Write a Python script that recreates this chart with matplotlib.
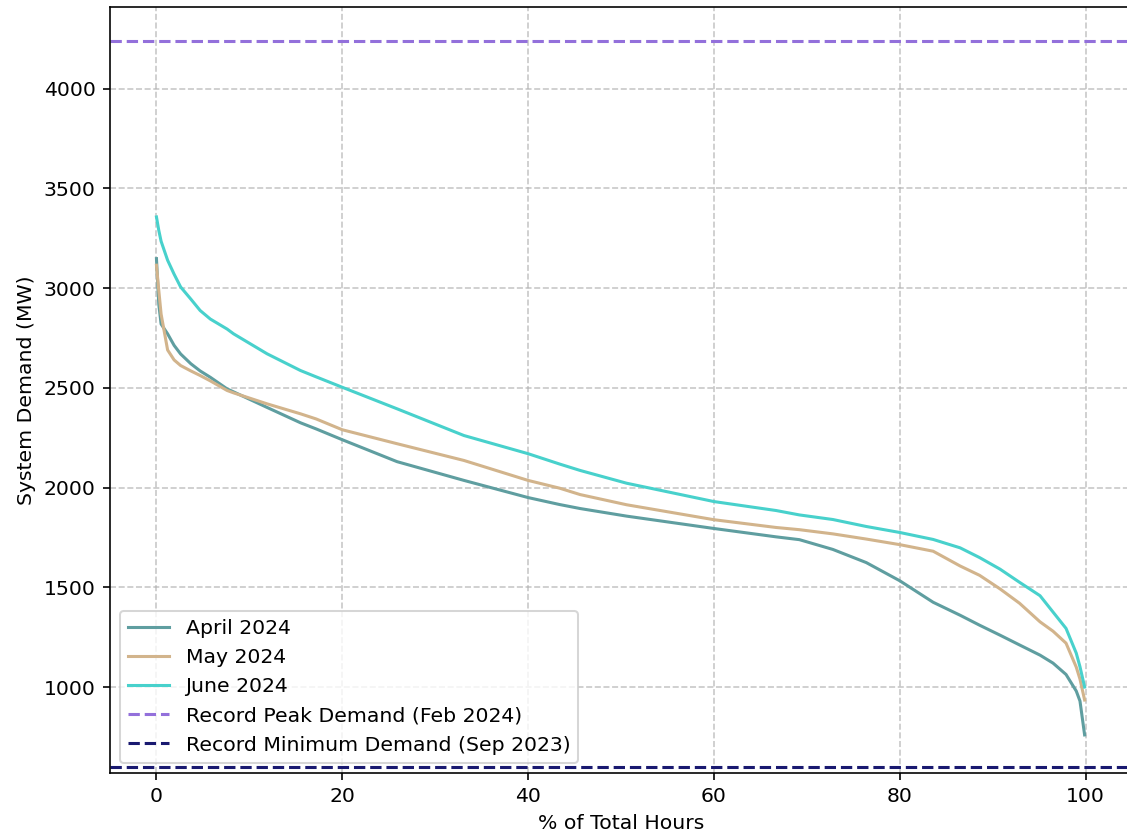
import matplotlib
matplotlib.use("Agg")
import matplotlib.pyplot as plt

pct_hours = [0, 0.25, 0.5, 1.2, 1.9, 2.6, 3.7, 4.7, 5.8, 7.6, 8.3, 11.9, 15.5, 17.2, 20,
             25.9, 33.1, 40, 43.4, 45.6, 50.6, 60, 66.7, 69.2, 72.8, 76.4, 80, 83.6, 86.5,
             88.6, 90.8, 92.9, 95.1, 96.5, 97.9, 99.0, 99.4, 99.9]

april_2024 = [3148, 2920, 2820, 2771, 2713, 2670, 2621, 2585, 2553, 2495, 2480, 2402, 2325, 2294, 2240,
              2130, 2036, 1950, 1915, 1895, 1857, 1795, 1753, 1739, 1690, 1624, 1533, 1425, 1360,
              1310, 1260, 1211, 1160, 1120, 1063, 980, 930, 760]

may_2024 = [3115, 2989, 2870, 2690, 2640, 2612, 2585, 2562, 2535, 2487, 2475, 2420, 2370, 2344, 2290,
            2220, 2136, 2036, 1997, 1965, 1914, 1839, 1800, 1789, 1768, 1742, 1714, 1681, 1607,
            1560, 1492, 1420, 1327, 1280, 1220, 1100, 1040, 935]

june_2024 = [3357, 3290, 3235, 3140, 3070, 3006, 2945, 2888, 2845, 2795, 2771, 2671, 2587, 2555, 2503,
             2395, 2261, 2170, 2118, 2086, 2022, 1930, 1885, 1863, 1840, 1805, 1775, 1740, 1698,
             1649, 1591, 1525, 1458, 1376, 1294, 1170, 1102, 1000]

record_peak = 4240
record_min = 599

series_labels = ["April 2024", "May 2024", "June 2024"]
series_colors = ["cadetblue", "tan", "mediumturquoise"]

dpi = 147
fig = plt.figure(figsize=(1127 / dpi, 837 / dpi), dpi=dpi)
ax = fig.add_axes([110 / 1127, 1 - 773 / 837, 1022 / 1127, 766 / 837])

for vals, lab, col in zip([april_2024, may_2024, june_2024], series_labels, series_colors):
    ax.plot(pct_hours, vals, color=col, label=lab, linewidth=1.5)

ax.axhline(record_peak, color="mediumpurple", linestyle="--", linewidth=1.5,
           label="Record Peak Demand (Feb 2024)")
ax.axhline(record_min, color="midnightblue", linestyle="--", linewidth=1.5,
           label="Record Minimum Demand (Sep 2023)")

ax.set_xlim(-5, 105)
ax.set_ylim(record_min * 0.95, record_peak * 1.04)
ax.set_xlabel("% of Total Hours")
ax.set_ylabel("System Demand (MW)")
ax.grid(True, linestyle="--", alpha=0.7)
ax.legend(loc="lower left")

fig.savefig("out.png", dpi=dpi)
